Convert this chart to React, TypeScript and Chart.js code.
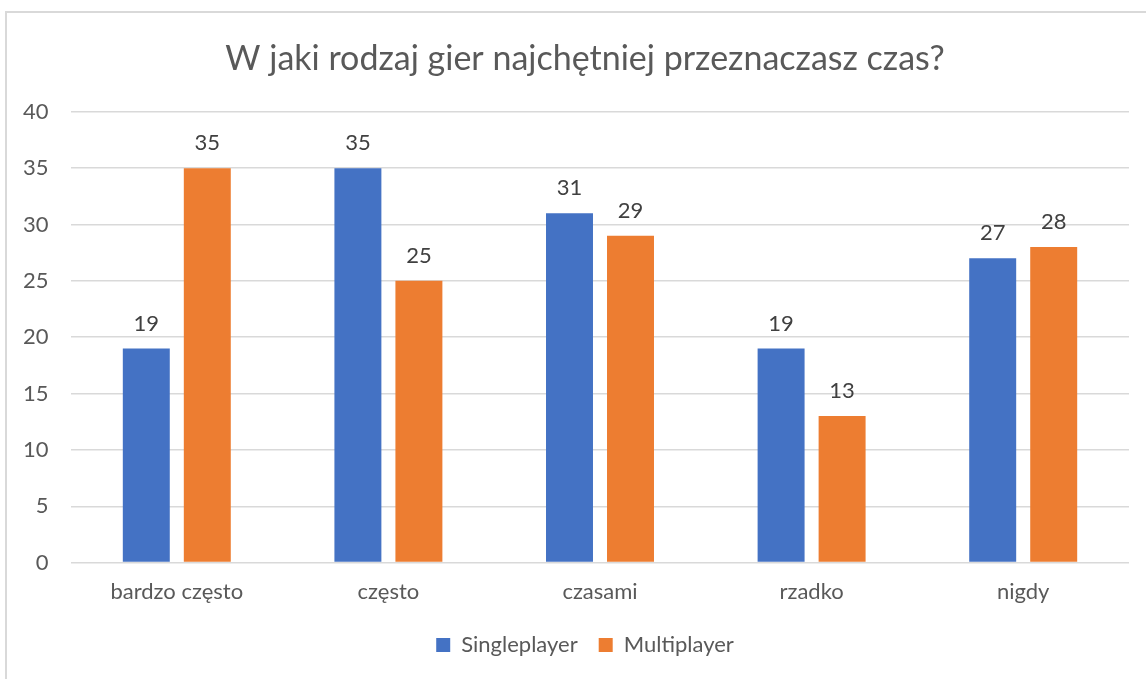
import React, { useEffect, useRef } from "react";
import { Chart, registerables } from "chart.js";

Chart.register(...registerables);

const TITLE = "W jaki rodzaj gier najchętniej przeznaczasz czas?";
const categories = ["bardzo często", "często", "czasami", "rzadko", "nigdy"];
const singleplayer = [19, 35, 31, 19, 27];
const multiplayer = [35, 25, 29, 13, 28];
const seriesNames = ["Singleplayer", "Multiplayer"];
const seriesColors = ["#4472C4", "#ED7D31"];

const FONT = "Lato, Carlito, Calibri, sans-serif";

const valueLabels = {
  id: "valueLabels",
  afterDatasetsDraw(chart: any) {
    const ctx = chart.ctx;
    ctx.save();
    ctx.font = `22px ${FONT}`;
    ctx.fillStyle = "#404040";
    ctx.textAlign = "center";
    ctx.textBaseline = "middle";
    chart.data.datasets.forEach((ds: any, i: number) => {
      const meta = chart.getDatasetMeta(i);
      meta.data.forEach((el: any, j: number) => {
        ctx.fillText(String(ds.data[j]), el.x, el.y - 25);
      });
    });
    ctx.restore();
  },
};

export default function App() {
  const ref = useRef<HTMLCanvasElement>(null);
  useEffect(() => {
    if (!ref.current) return;
    const chart = new Chart(ref.current, {
      type: "bar",
      data: {
        labels: categories,
        datasets: [
          {
            label: seriesNames[0],
            data: singleplayer,
            backgroundColor: seriesColors[0],
            categoryPercentage: 0.5766,
            barPercentage: 0.77,
          },
          {
            label: seriesNames[1],
            data: multiplayer,
            backgroundColor: seriesColors[1],
            categoryPercentage: 0.5766,
            barPercentage: 0.77,
          },
        ],
      },
      options: {
        responsive: false,
        animation: false,
        layout: { padding: { left: 41, right: 17, top: 0, bottom: 13 } },
        plugins: {
          title: {
            display: true,
            text: TITLE,
            color: "#595959",
            font: { family: FONT, size: 34, weight: "normal" },
            padding: { top: 39, bottom: 32 },
          },
          legend: {
            position: "bottom",
            labels: {
              color: "#595959",
              font: { family: FONT, size: 22 },
              boxWidth: 14,
              boxHeight: 14,
              padding: 21,
            },
          },
          tooltip: { enabled: false },
        },
        scales: {
          x: {
            grid: { display: false },
            border: { display: false },
            ticks: {
              color: "#595959",
              font: { family: FONT, size: 22 },
              padding: 8,
            },
          },
          y: {
            min: 0,
            max: 40,
            afterFit: (s: any) => {
              s.width = 30;
            },
            ticks: {
              stepSize: 5,
              color: "#595959",
              font: { family: FONT, size: 22 },
              mirror: true,
              crossAlign: "far",
              padding: -48,
            },
            grid: { color: "#D9D9D9", lineWidth: 1.5, drawTicks: false },
            border: { display: false },
          },
        },
      },
      plugins: [valueLabels],
    });
    return () => chart.destroy();
  }, []);
  return (
    <div
      style={{
        position: "absolute",
        left: 0,
        top: 0,
        width: 1146,
        height: 679,
        overflow: "hidden",
        background: "#fff",
      }}
    >
      <div
        style={{
          position: "absolute",
          left: 5,
          top: 11,
          width: 1200,
          height: 700,
          border: "2px solid #D9D9D9",
        }}
      />
      <canvas
        ref={ref}
        width={1146}
        height={679}
        style={{ position: "absolute", left: 0, top: 0 }}
      />
    </div>
  );
}
